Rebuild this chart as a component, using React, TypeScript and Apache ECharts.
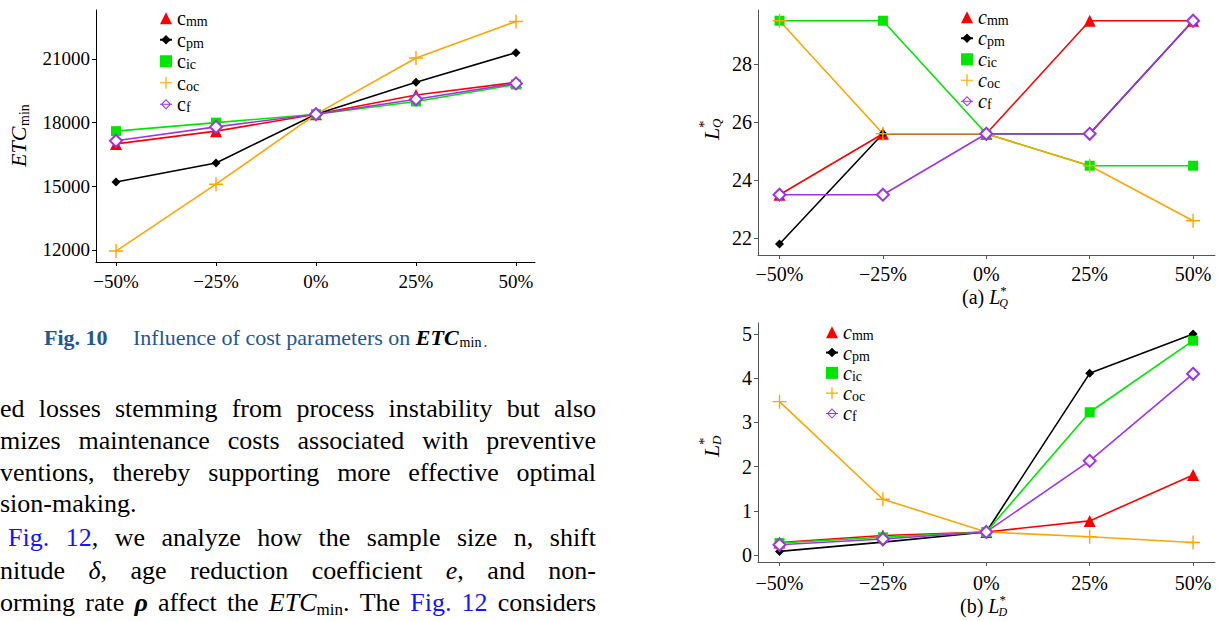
import React, { useEffect, useRef } from 'react';
import * as echarts from 'echarts';

// ---------- data ----------
const pcts = [-50, -25, 0, 25, 50];
const seriesKeys = ['c_mm', 'c_pm', 'c_ic', 'c_oc', 'c_f'];
const subs = ['mm', 'pm', 'ic', 'oc', 'f'];

// Fig. 10: ETC_min
const etcMm = [17000, 17600, 18400, 19300, 19900];
const etcPm = [15200, 16100, 18400, 19900, 21300];
const etcIc = [17600, 18000, 18400, 19000, 19800];
const etcOc = [11950, 15100, 18400, 21050, 22770];
const etcF = [17150, 17800, 18400, 19100, 19850];

// (a) L*_Q
const lqMm = [23.5, 25.6, 25.6, 29.5, 29.5];
const lqPm = [21.8, 25.6, 25.6, 25.6, 29.5];
const lqIc = [29.5, 29.5, 25.6, 24.5, 24.5];
const lqOc = [29.5, 25.6, 25.6, 24.5, 22.6];
const lqF = [23.5, 23.5, 25.6, 25.6, 29.5];

// (b) L*_D
const ldMm = [0.28, 0.44, 0.52, 0.77, 1.81];
const ldPm = [0.08, 0.29, 0.52, 4.11, 5.0];
const ldIc = [0.27, 0.4, 0.52, 3.23, 4.85];
const ldOc = [3.47, 1.26, 0.52, 0.41, 0.28];
const ldF = [0.23, 0.36, 0.52, 2.13, 4.1];

const etcTicks = [12000, 15000, 18000, 21000];
const lqTicks = [22, 24, 26, 28];
const ldTicks = [0, 1, 2, 3, 4, 5];

// ---------- text ----------
type Seg = { t: string; i?: boolean; b?: boolean; c?: string; sub?: boolean };
type Word = string | Seg[];
const LINK = '#1414FF';
const CAP = '#245694';
const paraLines: { y: number; x0: number; justify: boolean; words: Word[] }[] = [
  { y: 408, x0: 0, justify: true, words: ['ed', 'losses', 'stemming', 'from', 'process', 'instability', 'but', 'also'] },
  { y: 440, x0: 0, justify: true, words: ['mizes', 'maintenance', 'costs', 'associated', 'with', 'preventive'] },
  { y: 472, x0: 0, justify: true, words: ['ventions,', 'thereby', 'supporting', 'more', 'effective', 'optimal'] },
  { y: 503, x0: 0, justify: false, words: ['sion-making.'] },
  {
    y: 537, x0: 8, justify: true,
    words: [[{ t: 'Fig.', c: LINK }], [{ t: '12', c: LINK }, { t: ',' }], 'we', 'analyze', 'how', 'the', 'sample', 'size', 'n,', 'shift'],
  },
  {
    y: 570, x0: 0, justify: true,
    words: ['nitude', [{ t: 'δ', i: true }, { t: ',' }], 'age', 'reduction', 'coefficient', [{ t: 'e', i: true }, { t: ',' }], 'and', 'non-'],
  },
  {
    y: 602, x0: 0, justify: true,
    words: ['orming', 'rate', [{ t: 'ρ', i: true, b: true }], 'affect', 'the', [{ t: 'ETC', i: true }, { t: 'min', sub: true }, { t: '.' }], 'The', [{ t: 'Fig.', c: LINK }], [{ t: '12', c: LINK }], 'considers'],
  },
];

const SERIF = 'Liberation Serif';
const PSIZE = 26;
const PARA_RIGHT = 596;

function fontStr(size: number, italic = false, bold = false) {
  return `${italic ? 'italic ' : ''}${bold ? 'bold ' : ''}${size}px Liberation Serif`;
}

function txt(x: number, y: number, text: string, font: string, fill = '#000', align = 'left') {
  return {
    type: 'text', x, y, silent: true,
    style: { text, font, fill, align, verticalAlign: 'middle', textAlign: align, textVerticalAlign: 'middle' },
  };
}

function buildTexts(): any[] {
  const out: any[] = [];
  const ctx = document.createElement('canvas').getContext('2d')!;
  const segFont = (s: Seg, size: number) => fontStr(s.sub ? Math.round(size * 0.65) : size, s.i, s.b);
  const measure = (s: Seg, size: number) => {
    ctx.font = segFont(s, size);
    return ctx.measureText(s.t).width;
  };
  for (const line of paraLines) {
    const words: Seg[][] = line.words.map((w) => (typeof w === 'string' ? [{ t: w }] : w));
    const widths = words.map((w) => w.reduce((a, s) => a + measure(s, PSIZE), 0));
    const total = widths.reduce((a, b) => a + b, 0);
    ctx.font = fontStr(PSIZE);
    const sp = ctx.measureText(' ').width;
    const gap = line.justify && words.length > 1 ? (PARA_RIGHT - line.x0 - total) / (words.length - 1) : sp;
    let x = line.x0;
    words.forEach((w, wi) => {
      let sx = x;
      w.forEach((s) => {
        out.push(txt(sx, line.y + (s.sub ? 7 : 0), s.t, segFont(s, PSIZE), s.c || '#000'));
        sx += measure(s, PSIZE);
      });
      x += widths[wi] + gap;
    });
  }

  // caption Fig. 10
  const CY = 337;
  out.push(txt(44, CY, 'Fig. 10', fontStr(22, false, true), CAP));
  const capText = 'Influence of cost parameters on ';
  out.push(txt(133, CY, capText, fontStr(22), CAP));
  ctx.font = fontStr(22);
  let cx = 133 + ctx.measureText(capText).width;
  out.push(txt(cx, CY, 'ETC', fontStr(22, true, true), '#000'));
  ctx.font = fontStr(22, true, true);
  cx += ctx.measureText('ETC').width + 1;
  out.push(txt(cx, CY + 5, 'min', fontStr(14), '#000'));
  ctx.font = fontStr(14);
  cx += ctx.measureText('min').width + 2;
  out.push(txt(cx, CY + 4, '.', fontStr(16), CAP));

  // y axis titles (rotated)
  out.push({
    type: 'group', x: 18, y: 167, rotation: Math.PI / 2, silent: true,
    children: [txt(0, 0, 'ETC', fontStr(22, true)), txt(41, 6, 'min', fontStr(14))],
  });
  const lTitle = (x: number, y: number, sub: string) => ({
    type: 'group', x, y, rotation: Math.PI / 2, silent: true,
    children: [txt(0, 0, 'L', fontStr(22, true)), txt(12, -7, '*', fontStr(15)), txt(12, 5, sub, fontStr(13, true))],
  });
  out.push(lTitle(711, 140, 'Q'));
  out.push(lTitle(711, 457, 'D'));

  // sub-captions
  const subCap = (x: number, y: number, lab: string, sub: string) => {
    ctx.font = fontStr(20);
    const w = ctx.measureText(lab + ' ').width;
    ctx.font = fontStr(20, true);
    const lw = ctx.measureText('L').width;
    out.push(txt(x, y, lab, fontStr(20)));
    out.push(txt(x + w, y, 'L', fontStr(20, true)));
    out.push(txt(x + w + lw, y - 7, '*', fontStr(13)));
    out.push(txt(x + w + lw - 1, y + 6, sub, fontStr(12, true)));
  };
  subCap(962, 297, '(a)', 'Q');
  subCap(960, 606, '(b)', 'D');
  return out;
}

// ---------- chart ----------
const PLUS = 'path://M9,0H11V9H20V11H11V20H9V11H0V9H9Z';
// hollow diamond with a horizontal stroke through it (legend key for c_f)
const DIAMOND_LINE =
  'path://M6,0L12,6L6,12L0,6Z M6,1.7L1.7,6L6,10.3L10.3,6Z M-1,5.4L13,5.4L13,6.6L-1,6.6Z';
const styles = [
  { color: '#FF0000', symbol: 'triangle', size: 12 },
  { color: '#000000', symbol: 'diamond', size: 9 },
  { color: '#00E600', symbol: 'rect', size: 10 },
  { color: '#FFA500', symbol: PLUS, size: 14 },
  { color: '#A033E8', symbol: 'emptyDiamond', size: 12 },
];

const fmtPct = (v: number) => (v < 0 ? '\u2212' : '') + Math.abs(v) + '%';

function xAxisCfg(gridIndex: number, min: number, max: number, color: string, margin: number, fs: number) {
  return {
    type: 'value', gridIndex, min, max,
    axisLine: { show: true, onZero: false, lineStyle: { color, width: 1 } },
    axisTick: { show: true, customValues: pcts, length: 4, lineStyle: { color } },
    axisLabel: { customValues: pcts, formatter: fmtPct, fontFamily: SERIF, fontSize: fs, color: '#000', margin },
    splitLine: { show: false },
  };
}
function yAxisCfg(gridIndex: number, min: number, max: number, ticks: number[], color: string, fs: number) {
  return {
    type: 'value', gridIndex, min, max,
    axisLine: { show: true, onZero: false, lineStyle: { color, width: 1 } },
    axisTick: { show: true, customValues: ticks, length: 4, lineStyle: { color } },
    axisLabel: { customValues: ticks, formatter: (v: number) => String(v), fontFamily: SERIF, fontSize: fs, color: '#000', margin: 6 },
    splitLine: { show: false },
  };
}

function mkSeries(vals: number[][], axisIdx: number) {
  return vals.map((v, i) => ({
    name: seriesKeys[i],
    type: 'line',
    xAxisIndex: axisIdx,
    yAxisIndex: axisIdx,
    data: pcts.map((p, k) => [p, v[k]]),
    symbol: styles[i].symbol,
    symbolSize: styles[i].size,
    symbolKeepAspect: true,
    showAllSymbol: true,
    lineStyle: { color: styles[i].color, width: 1.6 },
    itemStyle: { color: styles[i].color, borderWidth: i === 4 ? 1.2 : 0 },
    emphasis: { disabled: true },
    z: 2,
  }));
}

function legendCfg(left: number, top: number, gap: number, italic: boolean) {
  const icons: (string | undefined)[] = ['triangle', undefined, 'rect', PLUS, DIAMOND_LINE];
  return {
    left, top, orient: 'vertical', itemGap: gap, itemWidth: 12, itemHeight: 12,
    selectedMode: false, padding: 0,
    data: seriesKeys.map((k, i) => (icons[i] ? { name: k, icon: icons[i] } : { name: k })),
    formatter: (name: string) => `{c|c}{s|${subs[seriesKeys.indexOf(name)]}}`,
    textStyle: {
      fontFamily: SERIF,
      rich: {
        c: { fontFamily: SERIF, fontSize: 20, fontStyle: italic ? 'italic' : 'normal', color: '#000', lineHeight: 12 },
        s: { fontFamily: SERIF, fontSize: 14, color: '#000', padding: [7, 0, 0, 0], lineHeight: 12 },
      },
    },
  };
}

export default function App() {
  const ref = useRef<HTMLDivElement>(null);
  useEffect(() => {
    if (!ref.current) return;
    const chart = echarts.init(ref.current, undefined, { renderer: 'svg' });
    const option: any = {
      animation: false,
      backgroundColor: '#fff',
      textStyle: { fontFamily: SERIF },
      grid: [
        { left: 96, top: 10, width: 439, height: 252 },
        { left: 758, top: 10, width: 457, height: 245 },
        { left: 758, top: 323, width: 457, height: 239 },
      ],
      xAxis: [
        xAxisCfg(0, -55, 54.75, '#000', 10, 19),
        xAxisCfg(1, -55.2, 55.3, '#555', 9, 20),
        xAxisCfg(2, -55.2, 55.3, '#555', 11, 20),
      ],
      yAxis: [
        yAxisCfg(0, 11434, 23309, etcTicks, '#000', 19),
        yAxisCfg(1, 21.42, 29.87, lqTicks, '#555', 20),
        yAxisCfg(2, -0.16, 5.25, ldTicks, '#555', 20),
      ],
      legend: [
        legendCfg(159, 7.75, 0.5, false),
        legendCfg(960, 6.75, 0, true),
        legendCfg(825, 321.75, -0.7, true),
      ],
      series: [
        ...mkSeries([etcMm, etcPm, etcIc, etcOc, etcF], 0),
        ...mkSeries([lqMm, lqPm, lqIc, lqOc, lqF], 1),
        ...mkSeries([ldMm, ldPm, ldIc, ldOc, ldF], 2),
      ],
      graphic: buildTexts(),
    };
    chart.setOption(option);
    return () => chart.dispose();
  }, []);
  return <div ref={ref} style={{ position: 'fixed', left: 0, top: 0, width: 1219, height: 621, background: '#fff' }} />;
}
